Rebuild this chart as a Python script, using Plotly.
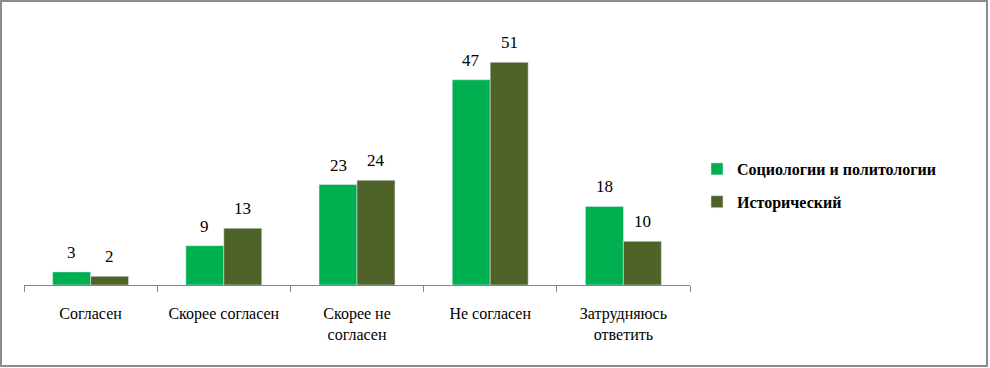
import plotly.graph_objects as go

categories = ["Согласен", "Скорее согласен", "Скорее не<br>согласен", "Не согласен", "Затрудняюсь<br>ответить"]
series_names = ["Социологии и политологии", "Исторический"]
soc_values = [3, 9, 23, 47, 18]
hist_values = [2, 13, 24, 51, 10]
colors = ["#00B050", "#4F6228"]

SERIF = "Liberation Serif"

W, H = 990, 368
L, R, T, B = 24, 300, 23, 83
pw, ph = W - L - R, H - T - B

def px(x):
    return (x - L) / pw

def py(y):
    return (H - B - y) / ph

fig = go.Figure()
for i, (name, vals, col) in enumerate(zip(series_names, [soc_values, hist_values], colors)):
    fig.add_trace(go.Bar(
        x=categories, y=vals, name=name, marker_color=col,
        legendgroup=f"g{i}",
    ))
    shift = -19 if i == 0 else 19
    for c, v in zip(categories, vals):
        fig.add_annotation(
            x=c, y=v, xref="x", yref="y", text=str(v), showarrow=False,
            xshift=shift, yshift=8, yanchor="bottom",
            font=dict(family=SERIF, size=17, color="black"),
        )

fig.update_layout(
    width=W, height=H,
    margin=dict(l=L, r=R, t=T, b=B),
    paper_bgcolor="white", plot_bgcolor="white",
    barmode="group", bargap=0.43, bargroupgap=0,
    font=dict(family=SERIF, size=16, color="black"),
    showlegend=True,
    legend=dict(
        x=px(697), y=py(152), xanchor="left", yanchor="top",
        font=dict(family=SERIF, size=16, color="black", weight="bold"),
        tracegroupgap=9, itemwidth=30,
    ),
    xaxis=dict(
        showline=True, linecolor="#868686", linewidth=1,
        ticks="outside", tickcolor="#868686", ticklen=6,
        showgrid=False, ticklabelstandoff=14,
        tickson="boundaries",
    ),
    yaxis=dict(range=[0, 60], visible=False, showgrid=False),
)

GRAY = "#8C8C8C"
fig.add_shape(type="rect", xref="paper", yref="paper",
              x0=px(1), x1=px(987), y0=py(1), y1=py(366),
              line=dict(color=GRAY, width=2), fillcolor="rgba(0,0,0,0)", layer="below")

fig.write_html("out.html")
